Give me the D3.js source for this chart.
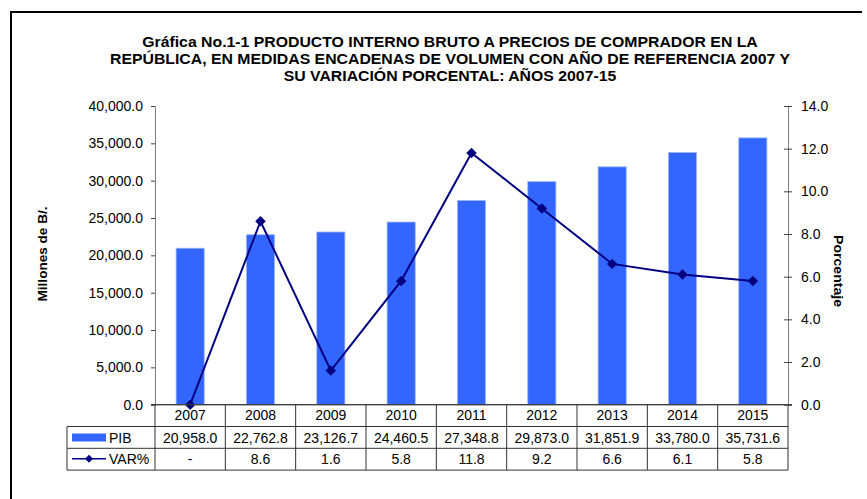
<!DOCTYPE html>
<html lang="es">
<head>
<meta charset="UTF-8">
<title>PIB 2007-15</title>
<script src="https://cdn.jsdelivr.net/npm/d3@7"></script>
<style>
  body { margin: 0; background: #fff; }
  svg { display: block; font-family: "Liberation Sans", Arial, sans-serif; }
  .title { font-weight: bold; font-size: 14.5px; }
  .tick text { font-size: 14px; fill: #000; }
  .cell { font-size: 14px; }
</style>
</head>
<body>
<div id="chart"></div>
<script>
const years = ["2007", "2008", "2009", "2010", "2011", "2012", "2013", "2014", "2015"];
const pib = [20958.0, 22762.8, 23126.7, 24460.5, 27348.8, 29873.0, 31851.9, 33780.0, 35731.6];
const varPct = [0, 8.6, 1.6, 5.8, 11.8, 9.2, 6.6, 6.1, 5.8];
const varLabels = ["-", "8.6", "1.6", "5.8", "11.8", "9.2", "6.6", "6.1", "5.8"];
const leftTicks = [0, 5000, 10000, 15000, 20000, 25000, 30000, 35000, 40000];
const rightTicks = [0, 2, 4, 6, 8, 10, 12, 14];
const titleLines = [
  "Gráfica No.1-1 PRODUCTO INTERNO BRUTO A PRECIOS DE COMPRADOR EN LA",
  "REPÚBLICA, EN MEDIDAS ENCADENAS DE VOLUMEN CON AÑO DE REFERENCIA 2007 Y",
  "SU VARIACIÓN PORCENTAL: AÑOS 2007-15"
];

const W = 867, H = 499;
const plotL = 155, plotR = 788, plotT = 106, plotB = 404.7;
const rowH = 21.8, tableLeft = 67;
const barColor = "#3366ff", lineColor = "#000080";

const svg = d3.select("#chart").append("svg").attr("width", W).attr("height", H);

// frame (only top and left edges are visible)
svg.append("path")
  .attr("d", `M11,${H} L11,12 L862,12`)
  .attr("fill", "none").attr("stroke", "#000").attr("stroke-width", 2);

// title - the original is a bit wider than the font, stretch it to fit
const tl = svg.selectAll("text.title").data(titleLines).join("text")
  .attr("class", "title")
  .attr("x", 450).attr("y", (d, i) => 47 + i * 17)
  .attr("text-anchor", "middle")
  .text(d => d);
const k = 680 / tl.nodes()[1].getComputedTextLength();
tl.each(function () {
  d3.select(this).attr("textLength", this.getComputedTextLength() * k)
    .attr("lengthAdjust", "spacingAndGlyphs");
});

const x = d3.scaleBand().domain(years).range([plotL, plotR]).padding(0);
const y = d3.scaleLinear().domain([0, 40000]).range([plotB, plotT]);
const y2 = d3.scaleLinear().domain([0, 14]).range([plotB, plotT]);

// bars
const bw = x.bandwidth() * 0.4;
svg.selectAll("rect.bar").data(pib).join("rect")
  .attr("class", "bar")
  .attr("x", (d, i) => x(years[i]) + x.bandwidth() / 2 - bw / 2)
  .attr("y", d => y(d))
  .attr("width", bw)
  .attr("height", d => plotB - y(d))
  .attr("fill", barColor)
  .attr("stroke", "#9db5ff").attr("stroke-width", 0.8);

// left axis
const gl = svg.append("g").attr("transform", `translate(${plotL},0)`)
  .call(d3.axisLeft(y).tickValues(leftTicks).tickFormat(d3.format(",.1f")).tickSize(4).tickPadding(8));
gl.select(".domain").attr("stroke", "#808080");
gl.selectAll(".tick line").attr("stroke", "#404040");

// right axis (cross ticks)
const gr = svg.append("g").attr("transform", `translate(${plotR},0)`)
  .call(d3.axisRight(y2).tickValues(rightTicks).tickFormat(d3.format(".1f")).tickSize(4).tickPadding(9));
gr.select(".domain").attr("stroke", "#808080");
gr.selectAll(".tick line").attr("x1", -4).attr("stroke", "#404040");

// axis titles
svg.append("text")
  .attr("transform", "translate(47,254) rotate(-90)")
  .attr("text-anchor", "middle")
  .attr("textLength", 95).attr("lengthAdjust", "spacingAndGlyphs")
  .style("font-weight", "bold").style("font-size", "12.5px")
  .text("Millones de B/.");
svg.append("text")
  .attr("transform", "translate(834,271) rotate(90)")
  .attr("text-anchor", "middle")
  .attr("textLength", 72).attr("lengthAdjust", "spacingAndGlyphs")
  .style("font-weight", "bold").style("font-size", "12.5px")
  .text("Porcentaje");

// line
const line = d3.line()
  .x((d, i) => x(years[i]) + x.bandwidth() / 2)
  .y(d => y2(d));
svg.append("path").datum(varPct)
  .attr("d", line)
  .attr("fill", "none").attr("stroke", lineColor).attr("stroke-width", 2);
const diamond = d3.symbol().type(d3.symbolDiamond2).size(70);
svg.selectAll("path.marker").data(varPct).join("path")
  .attr("class", "marker")
  .attr("d", diamond)
  .attr("transform", (d, i) => `translate(${x(years[i]) + x.bandwidth() / 2},${y2(d)})`)
  .attr("fill", lineColor);

// data table
const tb = svg.append("g");
const r0 = plotB, r1 = plotB + rowH, r2 = plotB + 2 * rowH, r3 = plotB + 3 * rowH;
const gridColor = "#333";
// horizontal lines
[[plotL, r0], [tableLeft, r1], [tableLeft, r2], [tableLeft, r3]].forEach(([x0, yy]) => {
  tb.append("line").attr("x1", x0).attr("x2", plotR).attr("y1", yy).attr("y2", yy)
    .attr("stroke", gridColor).attr("stroke-width", 1);
});
// vertical lines
tb.append("line").attr("x1", tableLeft).attr("x2", tableLeft).attr("y1", r1).attr("y2", r3)
  .attr("stroke", gridColor);
years.concat(["end"]).forEach((yr, i) => {
  const xx = i < years.length ? x(yr) : plotR;
  tb.append("line").attr("x1", xx).attr("x2", xx).attr("y1", r0).attr("y2", r3)
    .attr("stroke", gridColor);
});
// zero axis line drawn over the table top
svg.append("line").attr("x1", plotL - 4).attr("x2", plotR + 4).attr("y1", plotB).attr("y2", plotB)
  .attr("stroke", "#404040").attr("stroke-width", 1.2);

const cx = d => x(d) + x.bandwidth() / 2;
tb.selectAll("text.yr").data(years).join("text").attr("class", "cell")
  .attr("x", d => cx(d)).attr("y", r0 + 15).attr("text-anchor", "middle").text(d => d);
tb.selectAll("text.pib").data(pib).join("text").attr("class", "cell")
  .attr("x", (d, i) => cx(years[i])).attr("y", r1 + 16).attr("text-anchor", "middle")
  .text(d => d3.format(",.1f")(d));
tb.selectAll("text.var").data(varLabels).join("text").attr("class", "cell")
  .attr("x", (d, i) => cx(years[i])).attr("y", r2 + 16).attr("text-anchor", "middle")
  .text(d => d);

// legend keys inside the table
tb.append("rect").attr("x", 72).attr("y", r1 + 7).attr("width", 34).attr("height", 8).attr("fill", barColor);
tb.append("text").attr("class", "cell").attr("x", 109).attr("y", r1 + 16).text("PIB");
tb.append("line").attr("x1", 72).attr("x2", 106).attr("y1", r2 + 10.5).attr("y2", r2 + 10.5)
  .attr("stroke", lineColor).attr("stroke-width", 1.5);
tb.append("path").attr("d", d3.symbol().type(d3.symbolDiamond2).size(40))
  .attr("transform", `translate(89,${r2 + 10.5})`).attr("fill", lineColor);
tb.append("text").attr("class", "cell").attr("x", 109).attr("y", r2 + 16).text("VAR%");
</script>
</body>
</html>
